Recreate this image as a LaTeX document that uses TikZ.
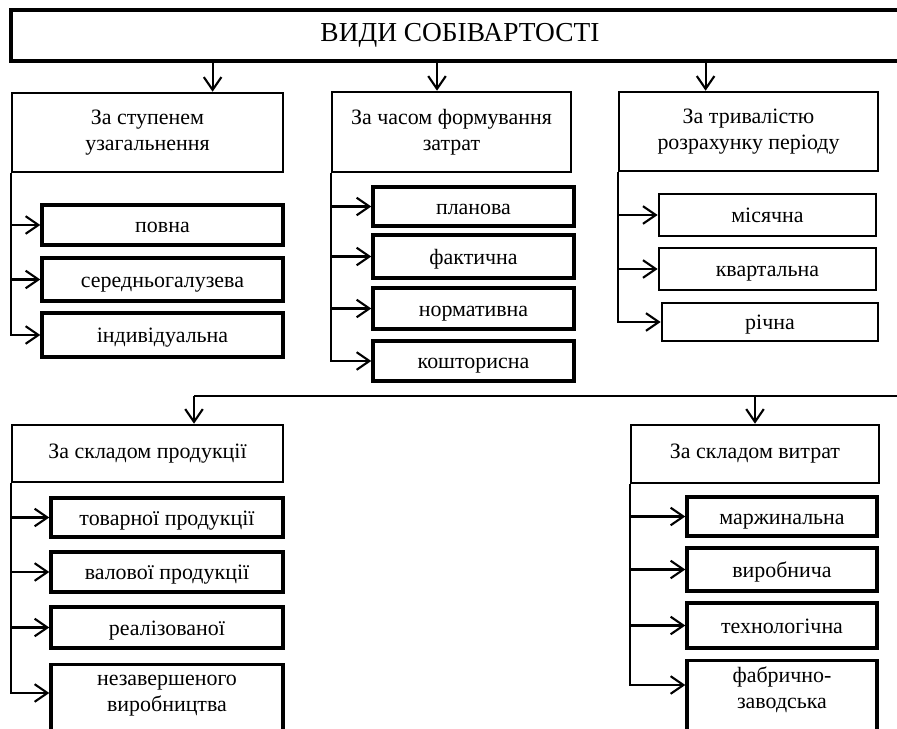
\documentclass[tikz,border=0pt]{standalone}
\usepackage{fontspec}
\setmainfont{Liberation Serif}
\usetikzlibrary{positioning,arrows.meta,calc}

\begin{document}
\begin{tikzpicture}[
  x=0.025cm, y=-0.025cm,
  head/.style={draw, line width=2.6pt, inner sep=0pt,
               font=\fontsize{19.5}{22}\selectfont},
  cat/.style={draw, line width=1.8pt, inner sep=0pt, align=center,
              font=\fontsize{15.6}{18.4}\selectfont},
  item/.style={draw, line width=2.4pt, inner sep=0pt, align=center,
               text height=11pt, text depth=0pt,
               font=\fontsize{15.6}{18.4}\selectfont},
  txt/.style={inner sep=0pt, align=center, font=\fontsize{15.6}{18.4}\selectfont},
  arr/.style={-{Straight Barb[length=3.2mm, width=4.4mm]}, line width=1.5pt},
  bus/.style={line width=0.8pt}
]
  \useasboundingbox (0,0) rectangle (897,729);

  % Title
  \node[head, minimum width=22.45cm, minimum height=1.275cm] (title) at (460,35.5) {ВИДИ СОБІВАРТОСТІ};

  % Categories
  \node[cat, minimum width=6.775cm, minimum height=1.975cm] (cat1) at (147.5,132.5) {За ступенем\\узагальнення};
  \node[cat, minimum width=5.975cm, minimum height=2cm] (cat2) at (451.5,132) {За часом формування\\затрат};
  \node[cat, minimum width=6.475cm, minimum height=1.975cm] (cat3) at (748.5,131.5) {За тривалістю\\розрахунку періоду};
  \node[cat, minimum width=6.775cm, minimum height=1.425cm] (cat4) at (147.5,453.5) {За складом продукції};
  \node[cat, minimum width=6.2cm, minimum height=1.45cm] (cat5) at (755,454) {За складом витрат};

  % Items of the first category
  \node[item, minimum width=6.025cm, minimum height=1cm] (s11) at (162.5,225) {повна};
  \node[item, minimum width=6.025cm, minimum height=1.075cm] (s12) at (162.5,279.5) {середньогалузева};
  \node[item, minimum width=6.025cm, minimum height=1.1cm] (s13) at (162.5,335) {індивідуальна};

  % Items of the second category
  \node[item, minimum width=5.025cm, minimum height=0.975cm] (s21) at (473.5,206.5) {планова};
  \node[item, minimum width=5.025cm, minimum height=1.075cm] (s22) at (473.5,256.5) {фактична};
  \node[item, minimum width=5.025cm, minimum height=1.025cm] (s23) at (473.5,308.5) {нормативна};
  \node[item, minimum width=5.025cm, minimum height=1cm] (s24) at (473.5,361) {кошторисна};

  % Items of the third category
  \node[item, line width=1.9pt, minimum width=5.425cm, minimum height=1.05cm] (s31) at (767.5,215) {місячна};
  \node[item, line width=1.9pt, minimum width=5.425cm, minimum height=1.05cm] (s32) at (767.5,269) {квартальна};
  \node[item, line width=1.9pt, minimum width=5.4cm, minimum height=0.95cm] (s33) at (770,322) {річна};

  % Items of the fourth category
  \node[item, minimum width=5.8cm, minimum height=0.975cm] (s41) at (167,517.5) {товарної продукції};
  \node[item, minimum width=5.8cm, minimum height=1cm] (s42) at (167,572) {валової продукції};
  \node[item, minimum width=5.8cm, minimum height=1.025cm] (s43) at (167,627.5) {реалізованої};
  \node[item, anchor=north, minimum width=5.8cm, minimum height=2cm] (s44) at (167,663) {};
  \node[txt] (s44t) at (167,696) {незавершеного\\виробництва};

  % Items of the fifth category
  \node[item, minimum width=4.75cm, minimum height=0.975cm] (s51) at (782,516.5) {маржинальна};
  \node[item, minimum width=4.75cm, minimum height=1.075cm] (s52) at (782,569.5) {виробнича};
  \node[item, minimum width=4.75cm, minimum height=1.125cm] (s53) at (782,625.5) {технологічна};
  \node[item, anchor=north, minimum width=4.75cm, minimum height=2cm] (s54) at (782,659) {};
  \node[txt] (s54t) at (782,690) {фабрично-\\заводська};

  % Title to categories
  \coordinate (in1) at ($(cat1.north west)!0.738!(cat1.north east)$);
  \coordinate (in2) at ($(cat2.north west)!0.44!(cat2.north east)$);
  \coordinate (in3) at ($(cat3.north west)!0.336!(cat3.north east)$);
  \draw[arr] (title.south -| in1) -- (in1);
  \draw[arr] (title.south -| in2) -- (in2);
  \draw[arr] (title.south -| in3) -- (in3);

  % Bus to the lower categories
  \coordinate (busE) at (910,396);
  \coordinate (in4) at ($(cat4.north west)!0.67!(cat4.north east)$);
  \draw[bus] (busE) -- (busE -| in4);
  \draw[arr] (busE -| in4) -- (in4);
  \draw[arr] (busE -| cat5.north) -- (cat5.north);

  % Category trunks
  \foreach \i in {1,2,3} {
    \draw[arr] (cat1.south west) |- (s1\i.west);
    \draw[arr] (cat3.south west) |- (s3\i.west);
  }
  \foreach \i in {1,...,4}
    \draw[arr] (cat2.south west) |- (s2\i.west);
  \foreach \i in {1,2,3} {
    \draw[arr] (cat4.south west) |- (s4\i.west);
    \draw[arr] (cat5.south west) |- (s5\i.west);
  }
  \draw[arr] (cat4.south west) |- ($(s44.north west)+(0,30)$);
  \draw[arr] (cat5.south west) |- ($(s54.north west)+(0,26)$);
\end{tikzpicture}
\end{document}
